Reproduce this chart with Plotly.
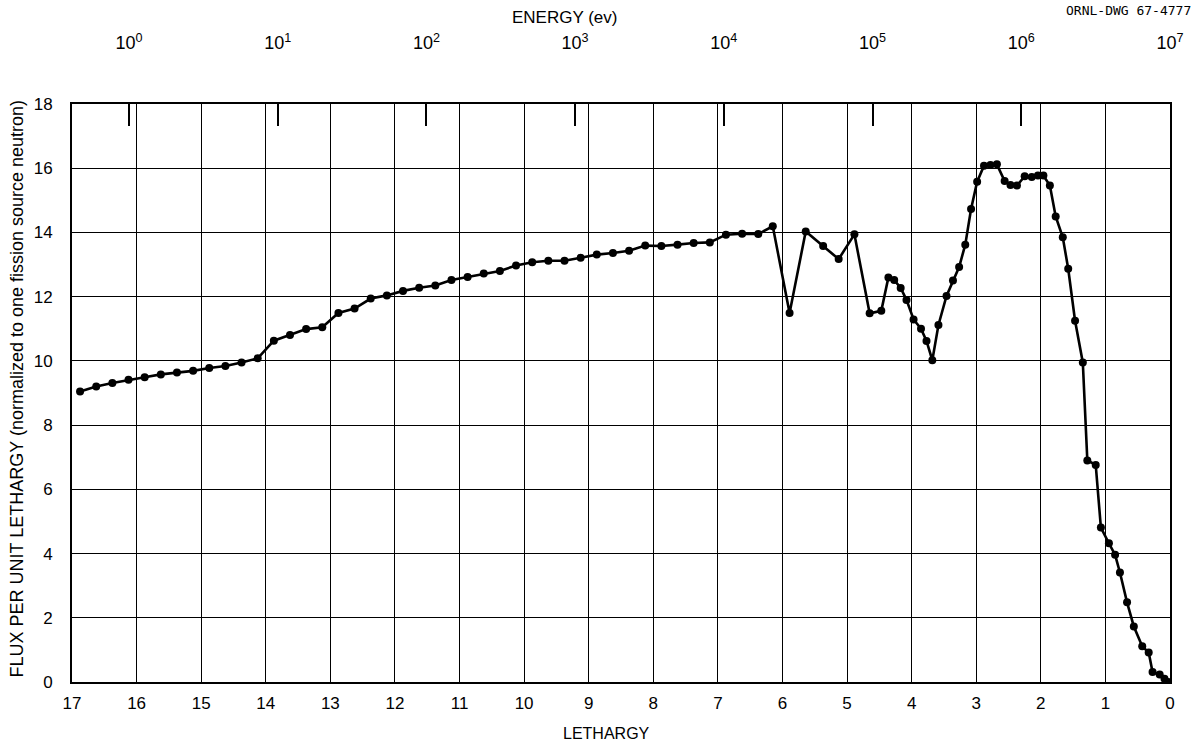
import math
import plotly.graph_objects as go

# Neutron flux per unit lethargy (normalized to one fission source neutron)
lethargy = [
    16.875, 16.625, 16.375, 16.125, 15.875, 15.625, 15.375, 15.125, 14.875, 14.625,
    14.375, 14.125, 13.875, 13.625, 13.375, 13.125, 12.875, 12.625, 12.375, 12.125,
    11.875, 11.625, 11.375, 11.125, 10.875, 10.625, 10.375, 10.125, 9.875, 9.625,
    9.375, 9.125, 8.875, 8.625, 8.375, 8.125, 7.875, 7.625, 7.375, 7.125,
    6.875, 6.625, 6.375, 6.15, 5.89, 5.64, 5.37, 5.13, 4.886, 4.65,
    4.47, 4.36, 4.27, 4.17, 4.08, 3.97, 3.855, 3.77, 3.68, 3.585,
    3.46, 3.36, 3.265, 3.17, 3.08, 2.986, 2.88, 2.78, 2.68, 2.56,
    2.47, 2.37, 2.25, 2.14, 2.045, 1.96, 1.86, 1.77, 1.66, 1.576,
    1.47, 1.35, 1.28, 1.15, 1.07, 0.946, 0.85, 0.775, 0.665, 0.56,
    0.43, 0.33, 0.27, 0.16, 0.085, 0.03,
]
flux = [
    9.05, 9.20, 9.31, 9.41, 9.49, 9.58, 9.64, 9.69, 9.78, 9.84,
    9.95, 10.08, 10.63, 10.81, 10.99, 11.05, 11.49, 11.63, 11.94, 12.04,
    12.18, 12.28, 12.35, 12.52, 12.61, 12.72, 12.80, 12.97, 13.07, 13.12,
    13.12, 13.21, 13.31, 13.36, 13.43, 13.59, 13.58, 13.62, 13.67, 13.69,
    13.93, 13.96, 13.95, 14.19, 11.49, 14.03, 13.58, 13.17, 13.94, 11.48,
    11.56, 12.60, 12.52, 12.27, 11.90, 11.29, 11.00, 10.62, 10.02, 11.12,
    12.02, 12.50, 12.92, 13.62, 14.73, 15.58, 16.08, 16.10, 16.12, 15.60,
    15.48, 15.46, 15.75, 15.73, 15.77, 15.77, 15.46, 14.50, 13.85, 12.87,
    11.25, 9.95, 6.90, 6.76, 4.81, 4.32, 3.96, 3.41, 2.48, 1.73,
    1.11, 0.92, 0.31, 0.23, 0.10, 0.0,
]

# Energy scale: lethargy u = ln(E0 / E), with E0 = 10 MeV
E0 = 1.0e7
energy_decades = [1e0, 1e1, 1e2, 1e3, 1e4, 1e5, 1e6, 1e7]
energy_labels = ["10<sup>%d</sup>" % i for i in range(8)]

u_min, u_max = 0, 17
y_ticks = [0, 2, 4, 6, 8, 10, 12, 14, 16, 18]
x_ticks = list(range(0, 18))

font_family = "Liberation Sans, Arial, sans-serif"

fig = go.Figure()

fig.add_trace(go.Scatter(
    x=lethargy, y=flux, mode="lines+markers",
    line=dict(color="black", width=2.6),
    marker=dict(color="black", size=8),
    showlegend=False, xaxis="x", yaxis="y",
))

# carrier trace so the energy axis is drawn on top
fig.add_trace(go.Scatter(
    x=energy_decades, y=[None] * len(energy_decades), mode="markers",
    showlegend=False, hoverinfo="skip", xaxis="x2", yaxis="y",
))

fig.update_layout(
    width=1196, height=741,
    margin=dict(l=72, r=26, t=104, b=59),
    paper_bgcolor="white", plot_bgcolor="white",
    font=dict(family=font_family, size=16, color="black"),
    xaxis=dict(
        range=[u_max, u_min], tickvals=x_ticks, ticktext=[str(v) for v in x_ticks],
        showgrid=True, gridcolor="black", gridwidth=1.4,
        showline=True, linecolor="black", linewidth=2, mirror=True,
        ticks="", zeroline=False, ticklabelstandoff=5,
        tickfont=dict(size=17),
    ),
    xaxis2=dict(
        type="log", overlaying="x", side="top", anchor="y",
        range=[math.log10(E0 * math.exp(-u_max)), math.log10(E0 * math.exp(-u_min))],
        tickvals=energy_decades, ticktext=energy_labels,
        ticks="inside", ticklen=22, tickwidth=2, tickcolor="black",
        showgrid=False, showline=False, zeroline=False,
        ticklabelstandoff=50, tickfont=dict(size=18),
    ),
    yaxis=dict(
        range=[0, 18], tickvals=y_ticks,
        showgrid=True, gridcolor="black", gridwidth=1.4,
        showline=True, linecolor="black", linewidth=2, mirror=True,
        ticks="", zeroline=False, ticklabelstandoff=14,
        tickfont=dict(size=17),
    ),
    annotations=[
        dict(text="ENERGY (ev)", xref="paper", yref="paper", x=0.449, y=1.150,
             xanchor="center", yanchor="middle", showarrow=False,
             font=dict(size=17)),
        dict(text="LETHARGY", xref="paper", yref="paper", x=0.487, y=-0.089,
             xanchor="center", yanchor="middle", showarrow=False,
             font=dict(size=16)),
        dict(text="FLUX PER UNIT LETHARGY (normalized to one fission source neutron)",
             xref="paper", yref="paper", x=-0.050, y=0.508, textangle=-90,
             xanchor="center", yanchor="middle", showarrow=False,
             font=dict(size=18)),
        dict(text="ORNL-DWG 67-4777", xref="paper", yref="paper", x=1.021, y=1.161,
             xanchor="right", yanchor="middle", showarrow=False,
             font=dict(size=13, family="DejaVu Sans Mono, monospace")),
    ],
)

fig.write_html("out.html")
